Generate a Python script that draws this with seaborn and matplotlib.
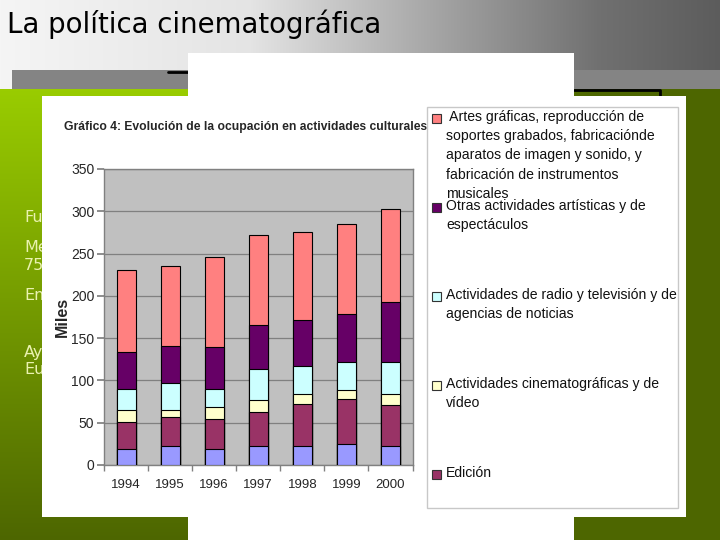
import numpy as np
import matplotlib
matplotlib.use("Agg")
import matplotlib.pyplot as plt
import seaborn as sns
from matplotlib.patches import Rectangle

# ----- data (thousands of jobs) -----
years = ["1994", "1995", "1996", "1997", "1998", "1999", "2000"]
otros_blue = [19, 22, 19, 22, 23, 25, 23]
edicion = [32, 35, 35, 41, 49, 53, 48]
cine = [14, 8, 14, 14, 12, 11, 13]
radio = [25, 32, 22, 36, 33, 33, 38]
otras_artes = [44, 44, 50, 52, 55, 56, 71]
artes_graficas = [97, 94, 106, 107, 104, 107, 110]

yticks = [0, 50, 100, 150, 200, 250, 300, 350]

layers = [otros_blue, edicion, cine, radio, otras_artes, artes_graficas]
colors = ["#9999FF", "#993366", "#FFFFCC", "#CCFFFF", "#660066", "#FF8080"]

legend_labels = [
    " Artes gráficas, reproducción de\nsoportes grabados, fabricaciónde\naparatos de imagen y sonido, y\nfabricación de instrumentos\nmusicales",
    "Otras actividades artísticas y de\nespectáculos",
    "Actividades de radio y televisión y de\nagencias de noticias",
    "Actividades cinematográficas y de\nvídeo",
    "Edición",
]
legend_colors = ["#FF8080", "#660066", "#CCFFFF", "#FFFFCC", "#993366"]

# slide text partly hidden behind the picture
side_texts = ["Fu", "Me", "75", "Em", "Ay", "Eu"]

W, H = 720, 540

sns.set_theme(style="white")
plt.rcParams["font.family"] = ["Liberation Sans", "DejaVu Sans"]

fig = plt.figure(figsize=(7.2, 5.4), dpi=100)

# ----- slide background -----
bg = fig.add_axes([0, 0, 1, 1])
bg.set_xlim(0, W)
bg.set_ylim(H, 0)
bg.axis("off")

xx, yy = np.meshgrid(np.arange(W), np.arange(H))
img = np.zeros((H, W, 3))
# top grey header, white -> dark grey
gv = np.interp(xx, [0, 250, 450, 600, 720], [245, 228, 160, 112, 92]) / 255
# green body, bright yellow-green -> dark olive
d = np.clip((yy - 90) / 450 + np.clip(xx - 200, 0, None) / 400, 0, 1)
bright = np.array([153, 204, 0]) / 255
dark = np.array([77, 102, 0]) / 255
green = bright[None, None, :] * (1 - d[..., None]) + dark[None, None, :] * d[..., None]
top = yy < 89
img[top] = np.stack([gv, gv, gv], axis=-1)[top]
img[~top] = green[~top]
band = (yy >= 70) & (yy < 89) & (xx >= 12)
img[band] = 0.52
bg.imshow(img, extent=(0, W, H, 0), aspect="auto", zorder=0)

bg.text(7, 24, "La política cinematográfica", fontsize=19.9, family="DejaVu Sans",
        color="black", va="center", ha="left", zorder=1)

for txt, y in zip(side_texts, [218, 248, 266, 296, 352, 370]):
    bg.text(24, y, txt, fontsize=11.5, family="DejaVu Sans", color="#eaf2b0",
            va="center", ha="left", zorder=1)

# white picture frames
bg.add_patch(Rectangle((188, 53), 386, 490, facecolor="white", edgecolor="none", zorder=2))
bg.add_patch(Rectangle((42, 96), 644, 421, facecolor="white", edgecolor="none", zorder=2))
bg.plot([168, 188], [72, 72], color="black", lw=2, zorder=1)
bg.plot([574, 660, 660], [90, 90, 96], color="black", lw=2, zorder=1)

# chart title and legend
bg.text(64, 127, "Gráfico 4: Evolución de la ocupación en actividades culturales",
        fontsize=8.7, fontweight="bold", va="center", ha="left", zorder=3)
bg.add_patch(Rectangle((427, 107), 251, 401, facecolor="white", edgecolor="#c8c8c8",
                       lw=1, zorder=3))
for lab, col, y in zip(legend_labels, legend_colors, [118, 207, 296, 385, 474]):
    bg.add_patch(Rectangle((432, y - 4.5), 9, 9, facecolor=col, edgecolor="#333333",
                           lw=0.8, zorder=4))
    bg.text(446, y - 8, lab, fontsize=10.1, va="top", ha="left", linespacing=1.47,
            color="#111111", zorder=4)

# ----- stacked bars -----
ax = fig.add_axes([104 / W, (H - 465) / H, (412.5 - 104) / W, (465 - 169) / H], zorder=5)
ax.set_facecolor("#C0C0C0")
cum = np.cumsum(np.array(layers), axis=0)
for i in range(len(layers) - 1, -1, -1):
    sns.barplot(x=years, y=cum[i], color=colors[i], width=0.43, edgecolor="black",
                linewidth=0.8, saturation=1, errorbar=None, ax=ax, zorder=3)

ax.set_ylim(0, 350)
ax.set_xlim(-0.5, 6.5)
ax.set_yticks(yticks)
ax.yaxis.grid(True, color="#808080", lw=0.9)
ax.set_axisbelow(True)
ax.set_xticks(np.arange(-0.5, 7, 1), minor=True)
ax.tick_params(axis="x", which="major", length=0, pad=10, labelsize=9.5)
ax.tick_params(axis="x", which="minor", length=4, color="#808080", direction="out", bottom=True)
ax.tick_params(axis="y", length=5, color="#808080", direction="out", left=True,
               pad=2, labelsize=10)
for s in ax.spines.values():
    s.set_color("#808080")
    s.set_linewidth(1)
ax.set_xlabel("")
ax.set_ylabel("Miles", fontsize=11.5, fontweight="bold", labelpad=1)

fig.savefig("out.png", dpi=100)
